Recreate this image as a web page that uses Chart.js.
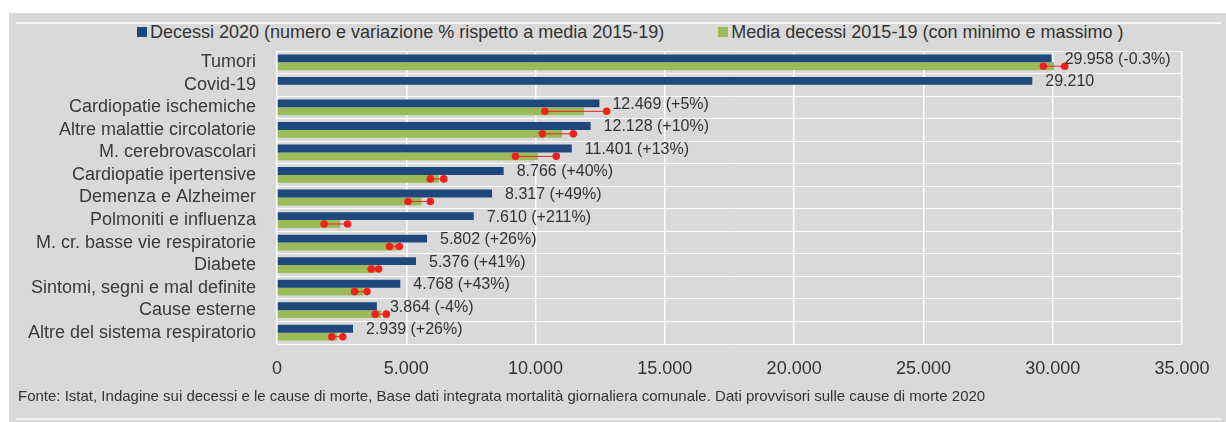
<!DOCTYPE html>
<html lang="it">
<head>
<meta charset="utf-8">
<title>Decessi 2020 per causa</title>
<script src="https://cdn.jsdelivr.net/npm/chart.js@4.4.1/dist/chart.umd.min.js"></script>
<style>
    html, body { margin: 0; padding: 0; background: #ffffff; }
    body { width: 1226px; height: 422px; position: relative; overflow: hidden; font-family: 'Liberation Sans', Arial, sans-serif; color: #333333; }
    #pannello { position: absolute; left: 9px; top: 13px; right: 0; bottom: 0; background: #d9d9d9; }
    .riga { position: absolute; left: 16px; width: 1205px; height: 2px; background: #f4f4f4; }
    #legenda { position: absolute; top: 22px; left: 137px; height: 20px; display: flex; align-items: center; font-size: 18px; white-space: nowrap; }
    #legenda span.box { display: inline-block; width: 10px; height: 10px; margin-right: 3px; }
    #legenda span.voce { display: inline-flex; align-items: center; }
    #fonte { position: absolute; left: 18px; top: 387px; font-size: 15px; white-space: nowrap; }
    #grafico { position: absolute; left: 0; top: 0; }
</style>
</head>
<body>
<div id="pannello"></div>
<div class="riga" style="top: 22px"></div>
<div class="riga" style="top: 418px"></div>
<div id="legenda"></div>
<canvas id="grafico" width="1226" height="422"></canvas>
<div id="fonte">Fonte: Istat, Indagine sui decessi e le cause di morte, Base dati integrata mortalità giornaliera comunale. Dati provvisori sulle cause di morte 2020</div>

<script>
    const categorie = [
        'Tumori',
        'Covid-19',
        'Cardiopatie ischemiche',
        'Altre malattie circolatorie',
        'M. cerebrovascolari',
        'Cardiopatie ipertensive',
        'Demenza e Alzheimer',
        'Polmoniti e influenza',
        'M. cr. basse vie respiratorie',
        'Diabete',
        'Sintomi, segni e mal definite',
        'Cause esterne',
        'Altre del sistema respiratorio'
    ];
    const decessi2020 = [29958, 29210, 12469, 12128, 11401, 8766, 8317, 7610, 5802, 5376, 4768, 3864, 2939];
    const variazione = ['-0.3%', null, '+5%', '+10%', '+13%', '+40%', '+49%', '+211%', '+26%', '+41%', '+43%', '-4%', '+26%'];
    const media1519 = [30048, null, 11875, 11025, 10089, 6261, 5582, 2447, 4605, 3813, 3334, 4025, 2333];
    const minimo1519 = [29640, null, 10360, 10260, 9225, 5930, 5065, 1820, 4350, 3640, 3000, 3800, 2120];
    const massimo1519 = [30465, null, 12750, 11460, 10800, 6450, 5930, 2730, 4730, 3930, 3480, 4225, 2545];
    const tickX = [0, 5000, 10000, 15000, 20000, 25000, 30000, 35000];

    const nomiSerie = [
        'Decessi 2020 (numero e variazione % rispetto a media 2015-19)',
        'Media decessi 2015-19 (con minimo e massimo )'
    ];
    const coloriSerie = ['#1f497d', '#9bbb59'];
    const font = "'Liberation Sans', Arial, sans-serif";

    function formatta(v) {
        return String(v).replace(/\B(?=(\d{3})+(?!\d))/g, '.');
    }

    // legenda in html
    const legenda = document.getElementById('legenda');
    nomiSerie.forEach(function (nome, i) {
        const voce = document.createElement('span');
        voce.className = 'voce';
        voce.style.marginRight = i === 0 ? '54px' : '0';
        voce.innerHTML = '<span class="box" style="background:' + coloriSerie[i] + '"></span>' + nome;
        legenda.appendChild(voce);
    });

    // punti rossi min/max sulla barra verde
    const minMaxPlugin = {
        id: 'minMax',
        afterDatasetsDraw(chart) {
            const ctx = chart.ctx;
            const x = chart.scales.x;
            const barre = chart.getDatasetMeta(1).data;
            ctx.save();
            for (let i = 0; i < categorie.length; i++) {
                if (minimo1519[i] == null) continue;
                const y = barre[i].y;
                const x1 = x.getPixelForValue(minimo1519[i]);
                const x2 = x.getPixelForValue(massimo1519[i]);
                ctx.strokeStyle = '#f0201c';
                ctx.lineWidth = 1;
                ctx.beginPath();
                ctx.moveTo(x1, y);
                ctx.lineTo(x2, y);
                ctx.stroke();
                ctx.fillStyle = '#f0201c';
                [x1, x2].forEach(function (px) {
                    ctx.beginPath();
                    ctx.arc(px, y, 3.8, 0, Math.PI * 2);
                    ctx.fill();
                });
            }
            ctx.restore();
        }
    };

    // etichette valore dopo la barra blu
    const etichettePlugin = {
        id: 'etichette',
        afterDraw(chart) {
            const ctx = chart.ctx;
            const barre = chart.getDatasetMeta(0).data;
            ctx.save();
            ctx.font = '16px ' + font;
            ctx.fillStyle = '#333333';
            ctx.textAlign = 'left';
            ctx.textBaseline = 'middle';
            for (let i = 0; i < categorie.length; i++) {
                let testo = formatta(decessi2020[i]);
                if (variazione[i]) testo += ' (' + variazione[i] + ')';
                ctx.fillText(testo, barre[i].x + 13, barre[i].y + 1);
            }
            ctx.restore();
        }
    };

    new Chart(document.getElementById('grafico').getContext('2d'), {
        type: 'bar',
        data: {
            labels: categorie,
            datasets: [{
                label: nomiSerie[0],
                data: decessi2020,
                backgroundColor: coloriSerie[0],
                categoryPercentage: 0.7,
                barPercentage: 1.0
            }, {
                label: nomiSerie[1],
                data: media1519,
                backgroundColor: coloriSerie[1],
                categoryPercentage: 0.7,
                barPercentage: 1.0
            }]
        },
        options: {
            indexAxis: 'y',
            responsive: false,
            animation: false,
            layout: {
                padding: { top: 51, right: 44, left: 0, bottom: 0 }
            },
            plugins: {
                legend: { display: false },
                tooltip: { enabled: false }
            },
            scales: {
                x: {
                    min: 0,
                    max: 35000,
                    afterFit: function (scale) { scale.height = 78; },
                    afterBuildTicks: function (scale) {
                        scale.ticks = tickX.map(function (v) { return { value: v }; });
                    },
                    grid: { color: '#ffffff', lineWidth: 1.5, drawTicks: false },
                    border: { display: false },
                    ticks: {
                        padding: 14,
                        color: '#333333',
                        font: { family: font, size: 18 },
                        callback: function (v) { return formatta(v); }
                    }
                },
                y: {
                    afterFit: function (scale) { scale.width = 277; },
                    grid: { color: '#ffffff', lineWidth: 1, drawTicks: false, offset: true },
                    border: { display: false },
                    ticks: {
                        autoSkip: false,
                        padding: 21,
                        color: '#3a3a3a',
                        font: { family: font, size: 18 }
                    }
                }
            }
        },
        plugins: [minMaxPlugin, etichettePlugin]
    });
</script>
</body>
</html>
